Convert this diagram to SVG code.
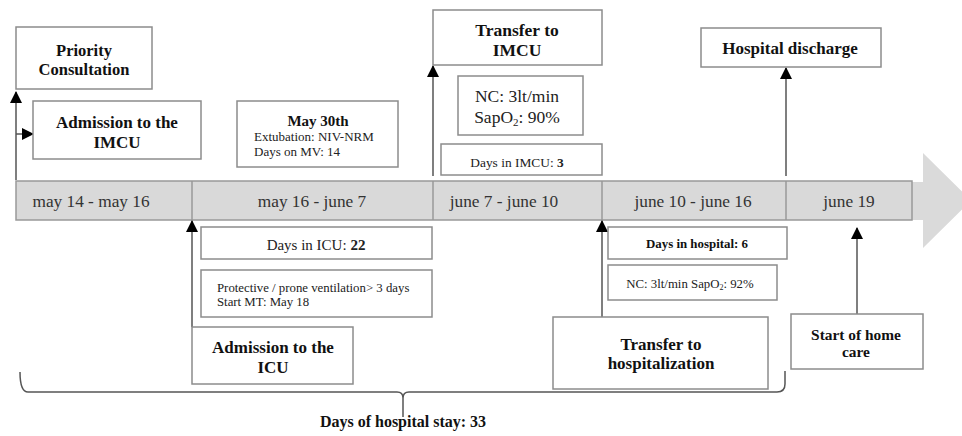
<svg xmlns="http://www.w3.org/2000/svg" width="962" height="436" viewBox="0 0 962 436">
<style>
.box{fill:#fff;stroke:#8c8c8c;stroke-width:1.5}
.t{font-family:"Liberation Serif",serif;fill:#222;text-anchor:middle}
.s{text-anchor:start}
.b{font-weight:bold;fill:#111}
.bar{fill:#d9d9d9;stroke:#999;stroke-width:1.5}
.div{stroke:#999;stroke-width:1.5}
.lbl{font-family:"Liberation Serif",serif;font-size:17.3px;fill:#333;text-anchor:middle}
.con{stroke:#555;stroke-width:1.5;fill:none}
</style>
<defs>
<marker id="ah" markerUnits="userSpaceOnUse" markerWidth="12" markerHeight="12" viewBox="0 0 12 12" refX="11" refY="6" orient="auto">
<path d="M0,0 L12,6 L0,12 z" fill="#000"/>
</marker>
</defs>
<g id="timeline">
<polygon points="900,182 923,182 923,153 971,200.5 923,248 923,220 900,220" fill="#dadada"/>
<rect class="bar" x="16" y="181" width="896" height="39"/>
<line class="div" x1="192" y1="181" x2="192" y2="220"/>
<line class="div" x1="433" y1="181" x2="433" y2="220"/>
<line class="div" x1="602" y1="181" x2="602" y2="220"/>
<line class="div" x1="786" y1="181" x2="786" y2="220"/>
<text class="lbl" x="91" y="207">may 14 - may 16</text>
<text class="lbl" x="312" y="207">may 16 - june 7</text>
<text class="lbl" x="504" y="207">june 7 - june 10</text>
<text class="lbl" x="693" y="207">june 10 - june 16</text>
<text class="lbl" x="849" y="207">june 19</text>
</g>
<g id="connectors">
<line class="con" x1="16" y1="180" x2="16" y2="92" marker-end="url(#ah)"/>
<line class="con" x1="16" y1="134" x2="33" y2="134" marker-end="url(#ah)"/>
<line class="con" x1="192" y1="327" x2="192" y2="221" marker-end="url(#ah)"/>
<line class="con" x1="433" y1="176" x2="433" y2="66" marker-end="url(#ah)"/>
<line class="con" x1="602" y1="317" x2="602" y2="221" marker-end="url(#ah)"/>
<line class="con" x1="786" y1="176" x2="786" y2="68" marker-end="url(#ah)"/>
<line class="con" x1="857" y1="314" x2="857" y2="228" marker-end="url(#ah)"/>
<path class="con" d="M20,372 Q20,392 28,392 L397,392 Q403,392 403,398 L403,417 M403,398 Q403,392 409,392 L777,392 Q785,392 785,384 L785,371"/>
</g>
<g id="priority-consultation">
<rect class="box" x="16" y="27" width="136" height="62"/>
<text class="t b" font-size="16.5" x="84" y="56">Priority</text>
<text class="t b" font-size="16.5" x="84" y="75">Consultation</text>
</g>
<g id="admission-imcu">
<rect class="box" x="33" y="101" width="168" height="58"/>
<text class="t b" font-size="17" x="117" y="128">Admission to the</text>
<text class="t b" font-size="17" x="117" y="148">IMCU</text>
</g>
<g id="may30">
<rect class="box" x="237" y="101" width="161" height="66"/>
<text class="t b" font-size="15" x="318" y="126">May 30th</text>
<text class="t s" font-size="13" x="254" y="141">Extubation: NIV-NRM</text>
<text class="t s" font-size="13" x="254" y="156">Days on MV: 14</text>
</g>
<g id="transfer-imcu">
<rect class="box" x="433" y="10" width="169" height="55"/>
<text class="t b" font-size="17.5" x="517" y="36">Transfer to</text>
<text class="t b" font-size="17.5" x="517" y="56">IMCU</text>
</g>
<g id="nc-90">
<rect class="box" x="458" y="76" width="125" height="59"/>
<text class="t" font-size="17.5" x="517" y="102">NC: 3lt/min</text>
<text class="t" font-size="17.5" x="517" y="123">SapO<tspan font-size="11" dy="3">2</tspan><tspan dy="-3">: 90%</tspan></text>
</g>
<g id="days-imcu">
<rect class="box" x="441" y="144" width="161" height="31"/>
<text class="t" font-size="13.4" x="517" y="167">Days in IMCU: <tspan font-weight="bold">3</tspan></text>
</g>
<g id="hospital-discharge">
<rect class="box" x="701" y="28" width="180" height="39"/>
<text class="t b" font-size="17" x="790" y="54">Hospital discharge</text>
</g>
<g id="days-icu">
<rect class="box" x="201" y="227" width="231" height="32"/>
<text class="t" font-size="15" x="316" y="250">Days in ICU: <tspan font-weight="bold">22</tspan></text>
</g>
<g id="protective">
<rect class="box" x="201" y="270" width="231" height="47"/>
<text class="t s" font-size="12.8" x="217" y="292">Protective / prone ventilation&gt; 3 days</text>
<text class="t s" font-size="12.8" x="217" y="306">Start MT: May 18</text>
</g>
<g id="admission-icu">
<rect class="box" x="192" y="327" width="161" height="57"/>
<text class="t b" font-size="17" x="273" y="353">Admission to the</text>
<text class="t b" font-size="17" x="273" y="373">ICU</text>
</g>
<g id="days-hospital">
<rect class="box" x="608" y="227" width="179" height="32"/>
<text class="t b" font-size="12.9" x="697" y="248">Days in hospital: 6</text>
</g>
<g id="nc-92">
<rect class="box" x="608" y="265" width="169" height="35"/>
<text class="t" font-size="12.8" x="690" y="288" fill="#444">NC: 3lt/min SapO<tspan font-size="8" dy="2">2</tspan><tspan dy="-2">: 92%</tspan></text>
</g>
<g id="transfer-hospitalization">
<rect class="box" x="553" y="317" width="215" height="72"/>
<text class="t b" font-size="17" x="661" y="350">Transfer to</text>
<text class="t b" font-size="17" x="661" y="369">hospitalization</text>
</g>
<g id="home-care">
<rect class="box" x="791" y="314" width="132" height="55"/>
<text class="t b" font-size="15.4" x="856" y="340">Start of home</text>
<text class="t b" font-size="15.4" x="856" y="357">care</text>
</g>
<g id="stay-label">
<text class="t b" font-size="16" x="403" y="427">Days of hospital stay: 33</text>
</g>
</svg>
